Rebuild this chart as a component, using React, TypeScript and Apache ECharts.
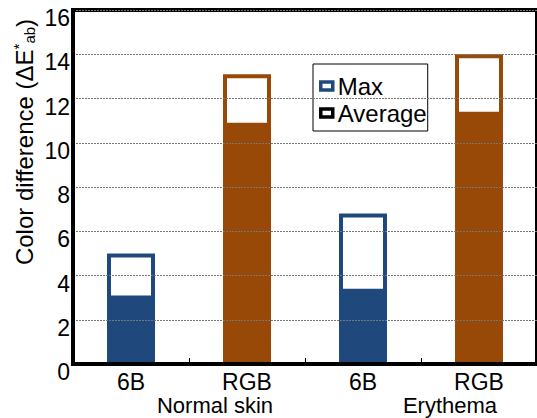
import React, { useEffect, useRef } from "react";
import * as echarts from "echarts";

const groups = ["Normal skin", "Erythema"];
const systems = ["6B", "RGB"];
const categories = ["6B", "RGB", "6B", "RGB"];
const maxValues = [5.0, 13.1, 6.8, 14.0];
const avgValues = [3.1, 10.9, 3.4, 11.4];
const yTicks = [0, 2, 4, 6, 8, 10, 12, 14, 16];

const BLUE = "#1F497D";
const ORANGE = "#984807";
const FONT = "'Liberation Sans', Arial, sans-serif";

export default function App() {
  const ref = useRef<HTMLDivElement>(null);
  useEffect(() => {
    if (!ref.current) return;
    const chart = echarts.init(ref.current, null, { renderer: "svg" });
    const colorOf = (i: number) => (categories[i] === systems[0] ? BLUE : ORANGE);
    chart.setOption({
      animation: false,
      textStyle: { fontFamily: FONT },
      grid: {
        left: 73,
        top: 10,
        width: 480,
        height: 354,
        show: true,
        borderColor: "#000",
        borderWidth: 4,
        backgroundColor: "transparent",
        z: 3,
      },
      legend: {
        orient: "vertical",
        left: 313,
        top: 64,
        backgroundColor: "#fff",
        borderColor: "#000",
        borderWidth: 1,
        padding: [10, 1, 6, 6],
        itemGap: 3,
        itemWidth: 12,
        itemHeight: 8,
        icon: "rect",
        textStyle: { fontFamily: FONT, fontSize: 24, color: "#000", lineHeight: 23 },
        data: [
          { name: "Max", itemStyle: { color: "#fff", borderColor: BLUE, borderWidth: 3.5 } },
          { name: "Average", itemStyle: { color: "#fff", borderColor: "#000", borderWidth: 3.5 } },
        ],
      },
      xAxis: {
        type: "category",
        data: categories.map((c, i) => ({ value: c + "_" + i })),
        axisLine: { lineStyle: { color: "#000", width: 4 } },
        axisTick: { show: true, inside: true, length: 6, lineStyle: { color: "#000", width: 1 } },
        axisLabel: {
          formatter: (v: string) => v.split("_")[0],
          fontSize: 23,
          lineHeight: 17,
          color: "#000",
          fontFamily: FONT,
          margin: 9,
        },
        splitLine: { show: false },
        z: 5,
      },
      yAxis: {
        type: "value",
        min: yTicks[0],
        max: yTicks[yTicks.length - 1],
        interval: 2,
        axisLine: { show: true, lineStyle: { color: "#000", width: 4 } },
        axisTick: { show: false },
        axisLabel: {
          fontSize: 23,
          color: "#000",
          fontFamily: FONT,
          margin: 3,
          verticalAlign: "top",
          lineHeight: 16,
        },
        splitLine: { show: true, lineStyle: { color: "#777", width: 1, type: [2, 1] } },
        z: 5,
      },
      series: [
        {
          name: "Max",
          type: "bar",
          barWidth: 48,
          barGap: "-100%",
          itemStyle: { color: "#fff", borderColor: BLUE, borderWidth: 4 },
          data: maxValues.map((v, i) => ({
            value: v,
            itemStyle: { color: "#fff", borderColor: colorOf(i), borderWidth: 4 },
          })),
        },
        {
          name: "Average",
          type: "bar",
          barWidth: 48,
          barGap: "-100%",
          itemStyle: { color: "#000", borderColor: "#000", borderWidth: 4 },
          data: avgValues.map((v, i) => ({
            value: v,
            itemStyle: { color: colorOf(i), borderColor: colorOf(i), borderWidth: 4 },
          })),
        },
      ],
      graphic: [
        {
          type: "text",
          x: 215,
          y: 405,
          style: {
            text: groups[0],
            font: `22px ${FONT}`,
            lineHeight: 16,
            fill: "#000",
            align: "center",
            verticalAlign: "middle",
          },
        },
        {
          type: "text",
          x: 450,
          y: 405,
          style: {
            text: groups[1],
            font: `22px ${FONT}`,
            lineHeight: 16,
            fill: "#000",
            align: "center",
            verticalAlign: "middle",
          },
        },
        {
          type: "text",
          x: 24,
          y: 142,
          rotation: Math.PI / 2,
          style: {
            text: "Color difference (ΔE{sup|*}{sub|ab})",
            font: `24px ${FONT}`,
            fontSize: 24,
            fontFamily: FONT,
            fill: "#000",
            align: "center",
            verticalAlign: "middle",
            rich: {
              sup: { fontSize: 15, fontFamily: FONT, fill: "#000", verticalAlign: "top", padding: [0, 0, 11, 0] },
              sub: { fontSize: 15, fontFamily: FONT, fill: "#000", verticalAlign: "bottom", padding: [9, 0, 0, 0] },
            },
          },
        },
      ],
    });
    return () => chart.dispose();
  }, []);
  return <div ref={ref} style={{ width: 537, height: 418, position: "absolute", left: 0, top: 0 }} />;
}
